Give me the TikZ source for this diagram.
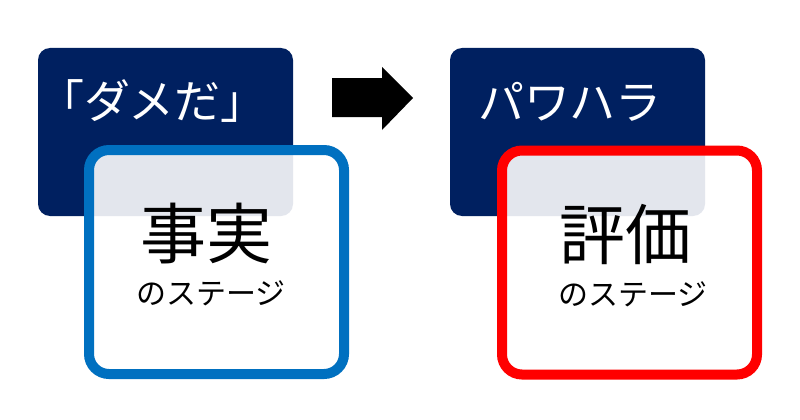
\documentclass[tikz,border=0pt]{standalone}
\usepackage{fontspec}
\newfontfamily\jp{Noto Sans CJK JP}
\definecolor{navy}{HTML}{002060}
\definecolor{stageblue}{HTML}{0070C0}
\definecolor{stagered}{HTML}{FF0000}
\begin{document}
\begin{tikzpicture}[x=1pt,y=-1pt,
  titlebox/.style={rectangle,rounded corners=12pt,fill=navy,draw=none,inner sep=0pt,
    minimum width=255pt,minimum height=168pt},
  stagebox/.style={rectangle,rounded corners=20pt,fill=white,fill opacity=0.89,draw opacity=1,
    line width=10pt,inner sep=0pt,minimum width=255pt,minimum height=224pt},
  titletext/.style={text=white,inner sep=0pt,font=\jp\fontsize{46}{50}\selectfont},
  bigtext/.style={text=black,inner sep=0pt,font=\jp\fontsize{66}{70}\selectfont},
  smalltext/.style={text=black,inner sep=0pt,font=\jp\fontsize{30}{34}\selectfont}]
\useasboundingbox[fill=white] (0,0) rectangle (800,420);
% left group
\node[titlebox] (t1) at (165.5,132) {};
\node[stagebox,draw=stageblue] (s1) at (216.5,262) {};
\node[titletext] (l1) at (152.5,101.5) {「ダメだ」};
\node[bigtext] (b1) at (206,234) {事実};
\node[smalltext] (m1) at (211,293.5) {のステージ};
% arrow
\fill[black] (332,78) -- (382,78) -- (382,67) -- (413,98) -- (382,130) -- (382,117) -- (332,117) -- cycle;
% right group
\node[titlebox] (t2) at (577.5,132) {};
\node[stagebox,draw=stagered] (s2) at (629.5,262.5) {};
\node[titletext] (l2) at (570,101.5) {パワハラ};
\node[bigtext] (b2) at (625,234) {評価};
\node[smalltext] (m2) at (633,294.5) {のステージ};
\end{tikzpicture}
\end{document}
